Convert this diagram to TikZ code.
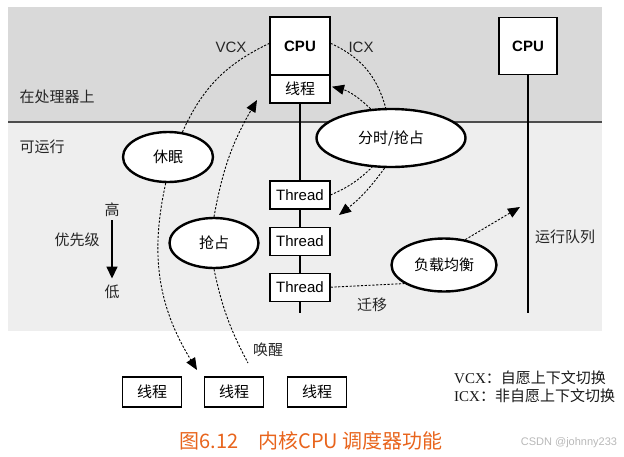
\documentclass[tikz,border=0pt]{standalone}
\usepackage{fontspec}
\setmainfont{Liberation Sans}
\newfontfamily\cjk{Noto Sans CJK SC}
\newfontfamily\tms{Liberation Serif}
\usetikzlibrary{positioning,arrows.meta,shapes.geometric}
\definecolor{bandtop}{RGB}{217,217,217}
\definecolor{bandrun}{RGB}{238,238,238}
\definecolor{capcol}{RGB}{232,100,28}
\tikzset{
    >={Triangle[length=12pt,width=10pt]},
    cpubox/.style={rectangle, draw, line width=1.2pt, fill=white, minimum width=60pt, minimum height=58pt, font=\fontsize{15}{15}\selectfont\bfseries},
    thbox/.style={rectangle, draw, line width=1.1pt, fill=white, minimum width=60pt, minimum height=28pt, inner sep=0pt, font=\fontsize{15}{15}\selectfont},
    task/.style={thbox, font=\fontsize{15}{15}\selectfont\cjk},
    act/.style={ellipse, draw, line width=2.4pt, fill=white, inner sep=0pt, font=\fontsize{15}{15}\selectfont\cjk},
    hop/.style={dash pattern=on 2.2pt off 1.6pt, line width=0.9pt},
    queue/.style={line width=2.8pt},
    lbl/.style={font=\fontsize{15}{15}\selectfont\cjk, text=black!85},
    tag/.style={font=\fontsize{15}{15}\selectfont, text=black!85}
}
\begin{document}
\begin{tikzpicture}[x=1pt, y=-1pt]
    \useasboundingbox (0,0) rectangle (624,456);
    % bands
    \fill[bandtop] (8,7) rectangle (602,122);
    \fill[bandrun] (8,122) rectangle (602,331);
    \draw[line width=1.2pt, black!70] (8,122) -- (602,122);

    \node[lbl, anchor=west] (onproc) at (16,97) {在处理器上};
    \node[lbl, anchor=west] (runnable) at (16,147) {可运行};

    % CPU 1 and its queue
    \node[cpubox] (cpuA) at (300,46) {CPU};
    \node[task] (runA) at (300,89) {线程};
    \node[thbox] (thA) at (300,195) {Thread};
    \node[thbox, below=17pt of thA] (thB) {Thread};
    \node[thbox, below=17pt of thB] (thC) {Thread};
    \coordinate (endA) at (300,313);

    % CPU 2
    \node[cpubox, minimum width=58pt, minimum height=57pt] (cpuB) at (528,46) {CPU};
    \coordinate (endB) at (528,313);
    \node[lbl] (rq) at (565,237) {运行队列};

    % actions
    \node[act, minimum width=90pt, minimum height=50pt] (sleep) at (168,157) {休眠};
    \node[act, minimum width=89pt, minimum height=50pt] (preempt) at (214,243) {抢占};
    \node[act, minimum width=149pt, minimum height=58pt] (slice) at (391,138) {分时/抢占};
    \node[act, minimum width=105pt, minimum height=53pt] (balance) at (444,265) {负载均衡};

    % sleeping threads
    \node[task, minimum width=59pt, minimum height=30pt] (slpA) at (152,392) {线程};
    \node[task, minimum width=59pt, minimum height=30pt] (slpB) at (234,392) {线程};
    \node[task, minimum width=59pt, minimum height=30pt] (slpC) at (317,392) {线程};

    % priority
    \node[lbl] (hi) at (112,210) {高};
    \node[lbl] (lo) at (112,292) {低};
    \node[lbl] (prio) at (77,240) {优先级};
    \draw[line width=1.5pt, -{Triangle[length=12pt,width=11pt]}, shorten >=3pt] (hi) -- (lo);

    % labels
    \node[tag] (vcx) at (231,47) {VCX};
    \node[tag] (icx) at (361,47) {ICX};
    \node[lbl] (wakeup) at (268,350) {唤醒};
    \node[lbl] (migrate) at (372,305) {迁移};

    \coordinate (tipSleep) at (197,370);
    \coordinate (wakeFoot) at (248,363);
    \coordinate (tipRun) at (257,100);
    \coordinate (tipMid) at (339,215);
    \coordinate (tipLB) at (520,207);

    % queues
    \draw[queue] (runA) -- (thA);
    \draw[queue] (thA) -- (thB);
    \draw[queue] (thB) -- (thC);
    \draw[queue] (thC) -- (endA);
    \draw[queue] (cpuB) -- (endB);

    % transitions
    \draw[hop] (sleep.60) to[bend left=20] (cpuA.175);
    \draw[hop, ->] (sleep.265) to[bend right=22] (tipSleep);
    \draw[hop, ->] (preempt.north) to[bend left=10] (tipRun);
    \draw[hop] (preempt.south) to[bend right=8] (wakeFoot);
    \draw[hop] (cpuA.5) to[bend left=25] (slice.100);
    \draw[hop, ->, shorten >=1.5pt] (slice.125) to[bend right=15] (runA.5);
    \draw[hop] (thA.east) to[bend right=10] (slice.237);
    \draw[hop, ->] (slice.258) to[bend left=8] (tipMid);
    \draw[hop] (thC.east) -- (balance.205);
    \draw[hop, ->] (balance.50) -- (tipLB);

    % legend and caption
    \node[anchor=west, inner sep=0pt, font=\fontsize{15}{17}\selectfont, text=black!90] (lgA) at (454,378) {\tms VCX\cjk ：自愿上下文切换};
    \node[anchor=west, inner sep=0pt, font=\fontsize{15}{17}\selectfont, text=black!90] (lgB) at (454,396) {\tms ICX\cjk ：非自愿上下文切换};
    \node[font=\fontsize{20}{20}\selectfont\cjk, text=capcol] (caption) at (311,441) {图6.12\quad 内核CPU 调度器功能};
    \node[font=\fontsize{11}{11}\selectfont, text=black!28] (mark) at (569,443) {CSDN @johnny233};
\end{tikzpicture}
\end{document}
